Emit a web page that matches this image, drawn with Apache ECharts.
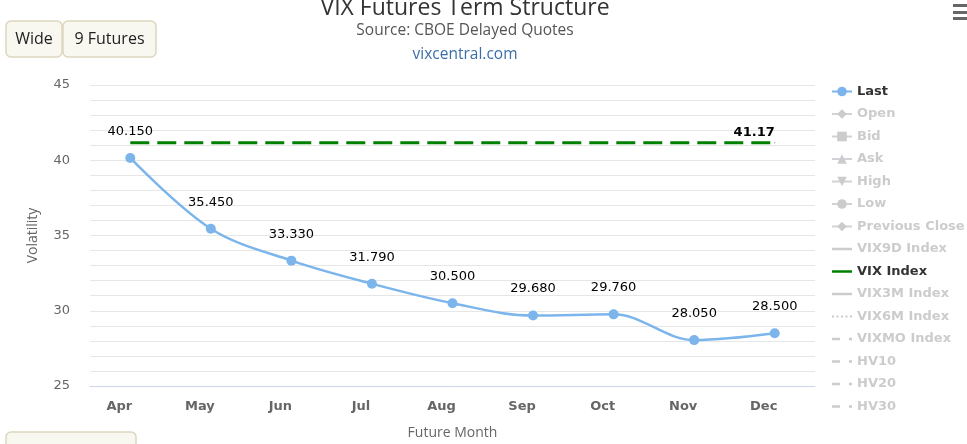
<!DOCTYPE html>
<html>
<head>
<meta charset="utf-8">
<script src="https://cdn.jsdelivr.net/npm/echarts@6/dist/echarts.min.js"></script>
<style>
  html, body { margin: 0; padding: 0; background: #fff; }
  #chart { width: 967px; height: 444px; }
</style>
</head>
<body>
<div id="chart"></div>
<script>
// values
const months = ['Apr', 'May', 'Jun', 'Jul', 'Aug', 'Sep', 'Oct', 'Nov', 'Dec']
const lastValues = [40.150, 35.450, 33.330, 31.790, 30.500, 29.680, 29.760, 28.050, 28.500]
const vixIndex = 41.17
const yTicks = [25, 30, 35, 40, 45]

// legend icons for the line-only entries
const ICON_SOLID = 'path://M0,0h20v2.5h-20z'
const ICON_DOTTED = 'path://M0,0h2v2h-2z M4.5,0h2v2h-2z M9,0h2v2h-2z M13.5,0h2v2h-2z M18,0h2v2h-2z'
const ICON_DASHDOT = 'path://M0,0h8v2.5h-8z M17,0h3v2.5h-3z'

// legend entries that are switched off in the original
const hiddenSeries = [
  { name: 'Open', symbol: 'diamond' },
  { name: 'Bid', symbol: 'rect' },
  { name: 'Ask', symbol: 'triangle' },
  { name: 'High', symbol: 'path://M0,0 L10,0 L5,10 Z' },
  { name: 'Low', symbol: 'circle' },
  { name: 'Previous Close', symbol: 'diamond' },
  { name: 'VIX9D Index', icon: ICON_SOLID },
  { name: 'VIX3M Index', icon: ICON_SOLID },
  { name: 'VIX6M Index', icon: ICON_DOTTED },
  { name: 'VIXMO Index', icon: ICON_DASHDOT },
  { name: 'HV10', icon: ICON_DASHDOT },
  { name: 'HV20', icon: ICON_DASHDOT },
  { name: 'HV30', icon: ICON_DASHDOT }
]
const legendOrder = ['Last', 'Open', 'Bid', 'Ask', 'High', 'Low', 'Previous Close',
  'VIX9D Index', 'VIX Index', 'VIX3M Index', 'VIX6M Index', 'VIXMO Index', 'HV10', 'HV20', 'HV30']

function button(x, y, w, h, text) {
  return {
    type: 'group',
    children: [
      {
        type: 'rect',
        shape: { x: x, y: y, width: w, height: h, r: 5 },
        style: { fill: '#f8f8f1', stroke: '#ddd6bd', lineWidth: 1.5 }
      },
      {
        type: 'text',
        x: x + w / 2, y: y + h / 2,
        style: {
          text: text, fill: '#222', font: '16px "Open Sans"',
          align: 'center', verticalAlign: 'middle'
        }
      }
    ]
  }
}

function headText(y, text, size, color) {
  return {
    type: 'text',
    x: 465, y: y,
    style: {
      text: text, fill: color, font: size + 'px "Open Sans"',
      align: 'center', verticalAlign: 'middle'
    }
  }
}

let chart = echarts.init(document.getElementById('chart'))

let selected = {}
for (const s of hiddenSeries) selected[s.name] = false

let series = [
  {
    name: 'Last',
    type: 'line',
    data: lastValues,
    smooth: 0.35,
    symbol: 'circle',
    symbolSize: 10,
    itemStyle: { color: '#7cb5ec' },
    lineStyle: { color: '#7cb5ec', width: 2.5 },
    label: {
      show: true,
      position: 'top',
      distance: 15,
      color: '#000',
      fontFamily: 'DejaVu Sans',
      fontSize: 13,
      formatter: p => p.value.toFixed(3)
    },
    z: 3
  },
  {
    name: 'VIX Index',
    type: 'line',
    // only the last point carries a (tiny) symbol, so only it gets the label
    data: months.map((m, i) => i === months.length - 1
      ? { value: vixIndex, symbol: 'circle', symbolSize: 1, label: { show: true } }
      : { value: vixIndex, symbol: 'none' }),
    showSymbol: true,
    itemStyle: { color: '#008000' },
    lineStyle: { color: '#008000', width: 3, type: [19, 8] },
    label: {
      show: false,
      position: 'top',
      align: 'right',
      distance: 3,
      color: '#000',
      fontFamily: 'DejaVu Sans',
      fontWeight: 'bold',
      fontSize: 13,
      formatter: p => p.value.toFixed(2)
    },
    z: 2
  }
]
for (const s of hiddenSeries) {
  series.push({
    name: s.name,
    type: 'line',
    data: [],
    symbol: s.symbol || 'none',
    symbolSize: 8,
    itemStyle: { color: '#ccc' },
    lineStyle: { color: '#ccc', width: 2 }
  })
}

let legendData = legendOrder.map(n => {
  if (n === 'VIX Index') return { name: n, icon: ICON_SOLID, itemStyle: { color: '#008000' } }
  const h = hiddenSeries.find(s => s.name === n)
  if (h && h.icon) return { name: n, icon: h.icon }
  return { name: n }
})

option = {
  animation: false,
  legend: {
    orient: 'vertical',
    left: 826,
    top: 80,
    itemWidth: 20,
    itemHeight: 12,
    itemGap: 9.5,
    data: legendData,
    selected: selected,
    inactiveColor: '#cccccc',
    textStyle: { color: '#333', fontFamily: 'DejaVu Sans', fontSize: 13, fontWeight: 'bold' }
  },
  grid: { left: 90, right: 152, top: 85, bottom: 58, outerBoundsMode: 'none' },
  xAxis: {
    type: 'category',
    data: months,
    boundaryGap: true,
    name: 'Future Month',
    nameLocation: 'middle',
    nameGap: 40,
    nameTextStyle: { color: '#666', fontFamily: 'Open Sans', fontSize: 14 },
    axisLine: { lineStyle: { color: '#ccd6eb' } },
    axisTick: { show: false },
    axisLabel: {
      color: '#666', fontFamily: 'DejaVu Sans', fontWeight: 'bold', fontSize: 13,
      margin: 14, padding: [0, 22, 0, 0]
    }
  },
  yAxis: {
    type: 'value',
    min: 25,
    max: 45,
    interval: 1,
    name: 'Volatility',
    nameLocation: 'middle',
    nameGap: 50,
    nameTextStyle: { color: '#666', fontFamily: 'Open Sans', fontSize: 14 },
    axisLine: { show: false },
    axisTick: { show: false },
    axisLabel: {
      color: '#666', fontFamily: 'DejaVu Sans', fontSize: 13, margin: 20,
      formatter: v => yTicks.includes(v) ? String(v) : ''
    },
    splitLine: { lineStyle: { color: '#e6e6e6' } }
  },
  graphic: [
    headText(8, 'VIX Futures Term Structure', 23, '#333'),
    headText(31, 'Source: CBOE Delayed Quotes', 15.5, '#555'),
    headText(55, 'vixcentral.com', 15.5, '#3b6ea8'),
    button(6, 21, 56, 36, 'Wide'),
    button(63, 21, 93, 36, '9 Futures'),
    button(6, 432, 130, 36, ''),
    { type: 'rect', shape: { x: 953, y: 4, width: 14, height: 3 }, style: { fill: '#666' } },
    { type: 'rect', shape: { x: 953, y: 11, width: 14, height: 3 }, style: { fill: '#666' } },
    { type: 'rect', shape: { x: 953, y: 17, width: 14, height: 3 }, style: { fill: '#666' } }
  ],
  series: series
}

chart.setOption(option)
</script>
</body>
</html>
